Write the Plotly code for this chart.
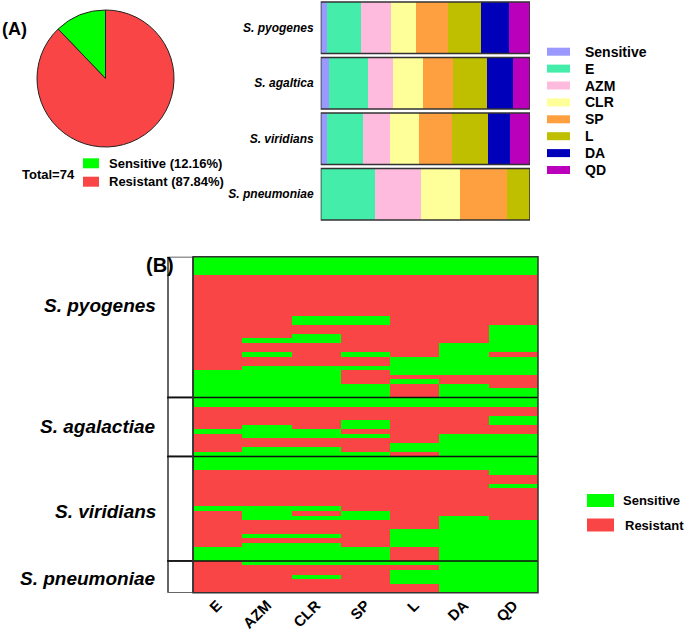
import plotly.graph_objects as go

W, H = 685, 639

# ---------------- data ----------------
antibiotics = ["E", "AZM", "CLR", "SP", "L", "DA", "QD"]
heat_species = ["S. pyogenes", "S. agalactiae", "S. viridians", "S. pneumoniae"]

# one string per isolate, columns E AZM CLR SP L DA QD ; 1 = sensitive, 0 = resistant
pyogenes_rows = [
    "1111111", "1111111", "1111111", "1111111",
    "0000000", "0000000", "0000000", "0000000", "0000000",
    "0000000", "0000000", "0000000", "0000000",
    "0011000", "0011000", "0000001", "0000001", "0010001",
    "0110001", "0000011", "0000011", "0101010", "0000111",
    "0000111", "0111111", "1110111", "1110000", "1110100",
    "1111010", "1111011", "1111011",
]
agalactiae_rows = [
    "1111111", "1111111", "0000000", "0000000", "0000001",
    "0001001", "0101000", "1110000", "0111011", "0000011",
    "0000111", "0110111", "1111011",
]
viridians_rows = [
    "1111111", "1111111", "1111111", "0000001", "0000000",
    "0000000", "0000001", "0000000", "0000000", "0000000",
    "0000000", "1110000", "0101000", "0111010", "0000011",
    "0000011", "0000111", "0110111", "0000111", "0110111",
    "1111011", "1111011", "1111011",
]
pneumoniae_rows = [
    "0111111", "0000011", "0000111", "0010111", "0000111",
    "0000011", "0000011",
]

# panel A bars (isolate counts, shown as % of each bar)
bar_species = ["S. pyogenes", "S. agaltica", "S. viridians", "S. pneumoniae"]
bar_labels = ["Sensitive", "E", "AZM", "CLR", "SP", "L", "DA", "QD"]
bar_sensitive = [4, 2, 3, 0]
bar_E = [23, 9, 16, 7]
bar_AZM = [20, 6, 12, 6]
bar_CLR = [17, 7, 13, 5]
bar_SP = [21, 7, 15, 6]
bar_L = [22, 8, 16, 3]
bar_DA = [19, 6, 10, 0]
bar_QD = [14, 4, 9, 0]

# ---------------- styles ----------------
RED = "#F94545"
GREEN = "#00FF00"
bar_colors = ["#9999FF", "#44EEAA", "#FFBBDD", "#FFFF99", "#FFA040", "#BFBF00", "#0000BB", "#BB00BB"]
FONT = "Liberation Sans, Arial, Helvetica, sans-serif"


def X(px):
    return px / W


def Y(py):
    return 1 - py / H


groups = [pyogenes_rows, agalactiae_rows, viridians_rows, pneumoniae_rows]
all_rows = [r for g in groups for r in g]
z = [[int(c) for c in r] for r in all_rows]
n_total = len(all_rows)
n_sens = sum(1 for r in all_rows if set(r) == {"1"})
n_res = n_total - n_sens

fig = go.Figure()

# ---- pie ----  (sensitive slice sits just left of 12 o'clock)
fig.add_trace(go.Pie(
    labels=["Sensitive", "Resistant"], values=[n_sens, n_res],
    marker=dict(colors=[GREEN, RED], line=dict(color="#222", width=1)),
    sort=False, direction="clockwise", rotation=-360.0 * n_sens / n_total,
    textinfo="none",
    domain=dict(x=[X(37), X(174)], y=[Y(147), Y(10)]), showlegend=False,
))

# ---- stacked bars ----
bar_series = [bar_sensitive, bar_E, bar_AZM, bar_CLR, bar_SP, bar_L, bar_DA, bar_QD]
for lab, vals, col in zip(bar_labels, bar_series, bar_colors):
    fig.add_trace(go.Bar(
        y=bar_species, x=vals, name=lab, orientation="h",
        marker=dict(color=col, line=dict(width=0)),
        xaxis="x2", yaxis="y2", showlegend=False,
    ))

# ---- heatmap ----
fig.add_trace(go.Heatmap(
    z=z, x=antibiotics, y=list(range(n_total)),
    colorscale=[[0, RED], [0.5, RED], [0.5, GREEN], [1, GREEN]],
    zmin=0, zmax=1, showscale=False, xaxis="x3", yaxis="y3",
))

shapes = []
annotations = []

# bar outlines
for i in range(len(bar_species)):
    shapes.append(dict(type="rect", xref="x2", yref="y2", x0=0, x1=100,
                       y0=i - 0.465, y1=i + 0.465, line=dict(color="#333", width=1.5)))

# heatmap group boxes and separators
start = 0
for gi, g in enumerate(groups):
    end = start + len(g)
    shapes.append(dict(type="rect", xref="paper", yref="y3", x0=X(168), x1=X(193),
                       y0=start - 0.5, y1=end - 0.5, fillcolor="white",
                       line=dict(color="#333", width=1.5)))
    if gi > 0:
        shapes.append(dict(type="line", xref="paper", yref="y3", x0=X(167), x1=X(538),
                           y0=start - 0.5, y1=start - 0.5, line=dict(color="#111", width=1.5)))
    start = end
shapes.append(dict(type="rect", xref="x3 domain", yref="y3 domain", x0=0, x1=1, y0=0, y1=1,
                   line=dict(color="#333", width=1.5)))

# heatmap species labels
label_rows = [10.2, 37, 55.6, 70.3]
for name, ry in zip(heat_species, label_rows):
    annotations.append(dict(text=name, xref="paper", yref="y3", x=X(158), y=ry,
                            xanchor="right", yanchor="middle", showarrow=False,
                            font=dict(size=19, weight="bold", style="italic", color="black")))

# panel letters
annotations.append(dict(text="(A)", xref="paper", yref="paper", x=X(0), y=Y(29),
                        xanchor="left", yanchor="middle", showarrow=False,
                        font=dict(size=18, weight="bold", color="black")))
annotations.append(dict(text="(B)", xref="paper", yref="paper", x=X(144), y=Y(265),
                        xanchor="left", yanchor="middle", showarrow=False,
                        font=dict(size=20, weight="bold", color="black")))

# pie legend
annotations.append(dict(text="Total=%d" % n_total, xref="paper", yref="paper", x=X(20), y=Y(175),
                        xanchor="left", yanchor="middle", showarrow=False,
                        font=dict(size=13, weight="bold", color="black")))
pie_leg = [("Sensitive (%.2f%%)" % (100 * n_sens / n_total), GREEN, 163.3),
           ("Resistant (%.2f%%)" % (100 * n_res / n_total), RED, 181.7)]
for txt, col, cy in pie_leg:
    shapes.append(dict(type="rect", xref="paper", yref="paper", x0=X(83), x1=X(99),
                       y0=Y(cy + 5), y1=Y(cy - 5), fillcolor=col, line=dict(width=0)))
    annotations.append(dict(text=txt, xref="paper", yref="paper", x=X(107), y=Y(cy),
                            xanchor="left", yanchor="middle", showarrow=False,
                            font=dict(size=13, weight="bold", color="black")))

# bar legend
for k, (lab, col) in enumerate(zip(bar_labels, bar_colors)):
    cy = 51.7 + k * 16.9
    shapes.append(dict(type="rect", xref="paper", yref="paper", x0=X(547), x1=X(570),
                       y0=Y(cy + 4), y1=Y(cy - 4), fillcolor=col, line=dict(width=0)))
    annotations.append(dict(text=lab, xref="paper", yref="paper", x=X(583), y=Y(cy),
                            xanchor="left", yanchor="middle", showarrow=False,
                            font=dict(size=14, weight="bold", color="black")))

# heatmap legend
for txt, col, cy, tx in [("Sensitive", GREEN, 500.5, 621), ("Resistant", RED, 525, 623)]:
    shapes.append(dict(type="rect", xref="paper", yref="paper", x0=X(587), x1=X(614),
                       y0=Y(cy + 6.5), y1=Y(cy - 6.5), fillcolor=col, line=dict(width=0)))
    annotations.append(dict(text=txt, xref="paper", yref="paper", x=X(tx), y=Y(cy),
                            xanchor="left", yanchor="middle", showarrow=False,
                            font=dict(size=13, weight="bold", color="black")))

fig.update_layout(
    width=W, height=H, margin=dict(l=0, r=0, t=0, b=0),
    paper_bgcolor="white", plot_bgcolor="white",
    font=dict(family=FONT, color="black"),
    barmode="stack", barnorm="percent", bargap=0.07,
    showlegend=False,
    xaxis2=dict(domain=[X(320.7), X(530)], range=[0, 100], visible=False, anchor="y2"),
    yaxis2=dict(domain=[Y(222), Y(0)], anchor="x2", range=[3.5, -0.5],
                showgrid=False, zeroline=False, ticks="", showline=False,
                ticklabelstandoff=6,
                tickfont=dict(size=12, weight="bold", style="italic", color="black")),
    xaxis3=dict(domain=[X(193), X(538)], anchor="y3", showgrid=False, zeroline=False,
                ticks="", tickangle=-45, showline=False,
                tickfont=dict(size=15, weight="bold", color="black")),
    yaxis3=dict(domain=[Y(592.7), Y(256.7)], anchor="x3", range=[n_total - 0.5, -0.5],
                visible=False),
    shapes=shapes, annotations=annotations,
)

fig.write_html("out.html", config={"displayModeBar": False},
               post_script="document.body.style.margin='0';")
